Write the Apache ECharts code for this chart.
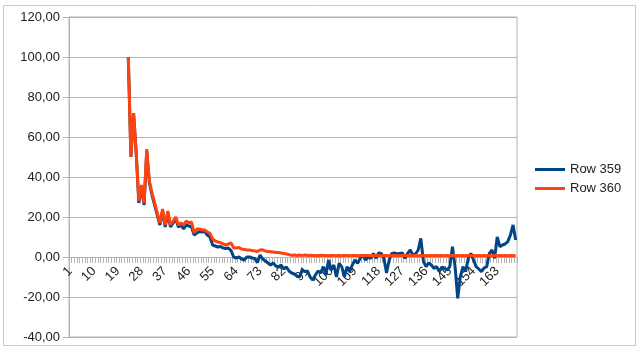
<!DOCTYPE html>
<html><head><meta charset="utf-8">
<script src="https://cdn.jsdelivr.net/npm/echarts@6/dist/echarts.min.js"></script>
<style>html,body{margin:0;padding:0;background:#fff}#c{width:640px;height:356px}</style>
</head><body><div id="c"></div>
<script>
const categories = [];
for (let i = 1; i <= 170; i++) categories.push(String(i));

const seriesNames = ['Row 359', 'Row 360'];

// Row 359 values for categories 23..170 (earlier categories empty)
const row359 = [
  100, 50, 72, 52, 27, 35, 26, 53, 37, 31, 26, 21, 16, 23, 15, 22, 15, 17, 19, 15,
  16, 14, 16, 15.5, 15, 11, 12, 12.7, 12.5, 12.7, 11, 10, 6, 5.5, 5, 5.2, 4.5, 4.3, 4.5, 3.2,
  0, -0.5, 0, -1, -1.5, 0, 0, -0.5, -0.7, -2.8, 1, -1, -2, -3, -4, -3, -4.5, -5, -4, -6,
  -5, -7, -8, -8.5, -9.5, -10, -6.5, -7.3, -7, -10, -11.5, -9, -7, -8, -4.8, -9, -1.5, -6.5, -4, -10,
  -3.2, -4.8, -10, -4.8, -7.3, -4, -1.5, -3.2, -0.7, 1, -1.5, 0, -0.7, 1.8, -0.7, 2, 1.8, -0.7, -8, -1.5,
  1.8, 2, 1.5, 1.8, 2, -0.7, 1.8, 3.5, 1, 1.5, 3.5, 9.3, -2.3, -4.8, -3, -4, -5.7, -4.8, -7.3, -5,
  -5.7, -6.5, -4.8, 5.2, -4.8, -20.7, -9.8, -4.8, -7.3, -0.7, 1.8, -1.5, -4.8, -6, -7.3, -5.5, -4.8, 1.8, 3.5, -0.7,
  10, 5.2, 6, 6.5, 7.7, 11, 16, 8.5
];

// Row 360 values for categories 23..170
const row360 = [
  100, 50, 72, 52, 28, 36, 27, 54, 38, 32, 27, 22, 17, 24, 16, 23, 16, 18, 20, 16,
  17, 16, 18, 17, 17.5, 12, 14, 14, 13.5, 13.5, 12.5, 11.8, 9, 8, 7.5, 7.2, 6.5, 6, 6.5, 7,
  4.5, 4.5, 4.7, 4, 3.8, 3.5, 3.5, 3.2, 3, 2.8, 3.5, 3.6, 3, 2.7, 2.6, 2.5, 2.3, 2.2, 2, 1.8,
  1.5, 1.2, 0.8, 1, 0.8, 1, 0.7, 1, 0.8, 0.9, 0.7, 0.8, 0.6, 0.9, 0.7, 0.8, 0.6, 0.7, 0.8, 0.6,
  0.7, 0.6, 0.8, 0.7, 0.6, 0.7, 0.8, 0.6, 0.7, 0.6, 0.7, 0.8, 0.6, 0.7, 0.6, 0.7, 0.6, 0.7, 0.8, 0.6,
  0.7, 0.6, 0.7, 0.6, 0.7, 0.8, 0.6, 0.7, 0.6, 0.7, 0.6, 0.7, 0.6, 0.7, 0.6, 0.7, 0.6, 0.7, 0.6, 0.7,
  0.6, 0.7, 0.6, 0.7, 0.6, 0.7, 0.6, 0.7, 0.6, 0.7, 0.6, 0.7, 0.6, 0.7, 0.6, 0.7, 0.6, 0.7, 0.6, 0.7,
  0.6, 0.7, 0.6, 0.7, 0.6, 0.7, 0.6, 0.7
];

const firstCategory = 23;
const yTicks = { min: -40, max: 120, interval: 20 };

function pad(arr) {
  const out = [];
  for (let i = 1; i < firstCategory; i++) out.push(null);
  return out.concat(arr);
}

const chart = echarts.init(document.getElementById('c'), null, { renderer: 'canvas' });
const FONT = 'Liberation Sans';
// plot area: top 17, bottom 337 -> zero line sits 80px above bottom
const plotTop = 17, plotBottom = 337;
const zeroOffset = -(plotBottom - plotTop) * (0 - yTicks.min) / (yTicks.max - yTicks.min);
chart.setOption({
  backgroundColor: '#fff',
  animation: false,
  graphic: [{
    type: 'rect', shape: { x: 3.5, y: 5.5, width: 632, height: 340 },
    style: { fill: 'none', stroke: '#c8c8c8', lineWidth: 1 }, silent: true, z: -1
  }],
  grid: { left: 69, right: 123, top: plotTop, bottom: 356 - plotBottom, show: true, borderColor: '#b3b3b3', borderWidth: 1,
    containLabel: false, outerBoundsMode: 'none' },
  legend: {
    orient: 'vertical', left: 535, top: 163, padding: 0, itemWidth: 30, itemHeight: 3, itemGap: 6,
    icon: 'rect',
    textStyle: { fontFamily: FONT, fontSize: 13, color: '#222' },
    data: seriesNames
  },
  xAxis: {
    type: 'category', data: categories, boundaryGap: true, position: 'bottom', offset: zeroOffset,
    axisLine: { onZero: false, lineStyle: { color: '#b3b3b3', width: 1 } },
    axisTick: { show: true, interval: 0, length: 6, lineStyle: { color: '#b3b3b3' } },
    axisLabel: { interval: 8, rotate: 45, fontFamily: FONT, fontSize: 13, color: '#222', margin: 12 },
    splitLine: { show: false }
  },
  yAxis: {
    type: 'value', min: yTicks.min, max: yTicks.max, interval: yTicks.interval,
    axisLine: { show: true, lineStyle: { color: '#b3b3b3' } },
    axisTick: { show: true, length: 6, lineStyle: { color: '#b3b3b3' } },
    axisLabel: { fontFamily: FONT, fontSize: 13, color: '#222', margin: 9,
      formatter: v => v.toFixed(2).replace('.', ',') },
    splitLine: { lineStyle: { color: '#b3b3b3' } }
  },
  series: [
    { name: seriesNames[0], type: 'line', data: pad(row359), showSymbol: false, symbol: 'none',
      lineStyle: { color: '#004586', width: 3 }, itemStyle: { color: '#004586' }, z: 2 },
    { name: seriesNames[1], type: 'line', data: pad(row360), showSymbol: false, symbol: 'none',
      lineStyle: { color: '#ff420e', width: 3 }, itemStyle: { color: '#ff420e' }, z: 3 }
  ]
});
</script></body></html>
